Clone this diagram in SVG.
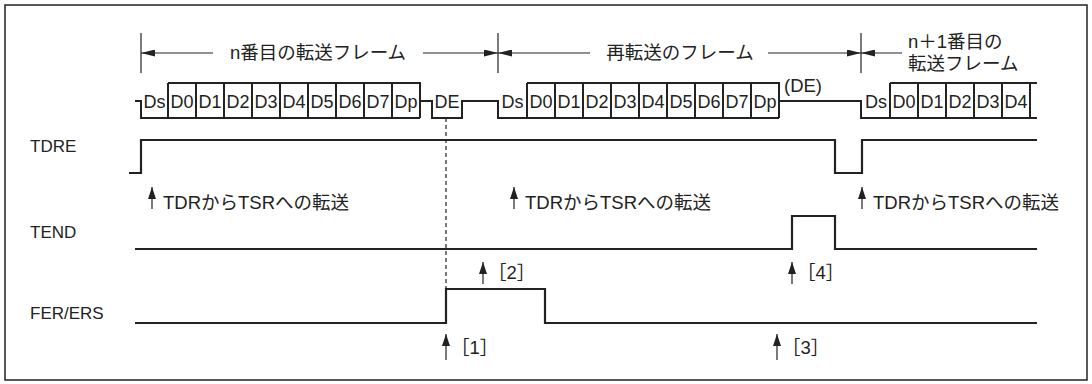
<svg xmlns="http://www.w3.org/2000/svg" width="1092" height="384" viewBox="0 0 1092 384">
<defs>
<style>
.t{font-family:"Liberation Sans","Noto Sans CJK JP",sans-serif;font-size:18.5px;fill:#222}
.l{font-family:"Liberation Sans","Noto Sans CJK JP",sans-serif;font-size:17px;fill:#222}
.d{font-family:"Liberation Sans","Noto Sans CJK JP",sans-serif;font-size:18px;fill:#222;text-anchor:middle}
.sig{fill:none;stroke:#222;stroke-width:2.2}
.box{fill:none;stroke:#222;stroke-width:2}
.thin{fill:none;stroke:#222;stroke-width:1.2}
.dash{fill:none;stroke:#222;stroke-width:1.2;stroke-dasharray:4 3}
</style>
<marker id="ah" viewBox="0 0 14 7" refX="14" refY="3.5" markerWidth="14" markerHeight="7" markerUnits="userSpaceOnUse" orient="auto">
<path d="M0,0 L14,3.5 L0,7 Z" fill="#222"/>
</marker>
<marker id="au" viewBox="0 0 12 8" refX="12" refY="4" markerWidth="12" markerHeight="8" markerUnits="userSpaceOnUse" orient="auto">
<path d="M0,0 L12,4 L0,8 Z" fill="#222"/>
</marker>
</defs>
<rect x="5" y="5" width="1082" height="375" fill="#fff" stroke="#222" stroke-width="1.5"/>

<g id="frame-headers">
<line class="thin" x1="141" y1="33" x2="141" y2="73"/>
<line class="thin" x1="498" y1="33" x2="498" y2="73"/>
<line class="thin" x1="861" y1="33" x2="861" y2="73"/>
<line class="thin" x1="213" y1="53" x2="141" y2="53" marker-end="url(#ah)"/>
<line class="thin" x1="423" y1="53" x2="498" y2="53" marker-end="url(#ah)"/>
<line class="thin" x1="590" y1="53" x2="498" y2="53" marker-end="url(#ah)"/>
<line class="thin" x1="768" y1="53" x2="861" y2="53" marker-end="url(#ah)"/>
<line class="thin" x1="902" y1="53" x2="861" y2="53" marker-end="url(#ah)"/>
<text class="t" x="318" y="59" text-anchor="middle">n番目の転送フレーム</text>
<text class="t" x="680" y="59" text-anchor="middle">再転送のフレーム</text>
<text class="t" x="908" y="48">n＋1番目の</text>
<text class="t" x="908" y="70">転送フレーム</text>
</g>

<g id="data-line">
<path class="box" d="M135,101 H141 V118 H420 M168,83 H420 V118 M420,101 H432 V118 H462 V101 H498 V118 H779 M527,83 H779 V118 M779,101 H861 V118 H1037 M890,83 H1037"/>
<path class="box" d="M168,83 V118 M196,83 V118 M224,83 V118 M252,83 V118 M280,83 V118 M308,83 V118 M336,83 V118 M364,83 V118 M392,83 V118 M527,83 V118 M555,83 V118 M583,83 V118 M611,83 V118 M639,83 V118 M667,83 V118 M695,83 V118 M723,83 V118 M751,83 V118 M890,83 V118 M918,83 V118 M946,83 V118 M974,83 V118 M1002,83 V118 M1030,83 V118"/>
<text class="d" x="154.5" y="108">Ds</text>
<text class="d" x="182" y="108">D0</text>
<text class="d" x="210" y="108">D1</text>
<text class="d" x="238" y="108">D2</text>
<text class="d" x="266" y="108">D3</text>
<text class="d" x="294" y="108">D4</text>
<text class="d" x="322" y="108">D5</text>
<text class="d" x="350" y="108">D6</text>
<text class="d" x="378" y="108">D7</text>
<text class="d" x="406" y="108">Dp</text>
<text class="d" x="447" y="108">DE</text>
<text class="d" x="512.5" y="108">Ds</text>
<text class="d" x="541" y="108">D0</text>
<text class="d" x="569" y="108">D1</text>
<text class="d" x="597" y="108">D2</text>
<text class="d" x="625" y="108">D3</text>
<text class="d" x="653" y="108">D4</text>
<text class="d" x="681" y="108">D5</text>
<text class="d" x="709" y="108">D6</text>
<text class="d" x="737" y="108">D7</text>
<text class="d" x="765" y="108">Dp</text>
<text class="d" x="803" y="92" style="font-size:18.5px">(DE)</text>
<text class="d" x="876" y="108">Ds</text>
<text class="d" x="904" y="108">D0</text>
<text class="d" x="932" y="108">D1</text>
<text class="d" x="960" y="108">D2</text>
<text class="d" x="988" y="108">D3</text>
<text class="d" x="1016" y="108">D4</text>
</g>

<g id="TDRE">
<text class="l" x="30" y="152">TDRE</text>
<path class="sig" d="M129,173 H141 V140 H835 V173 H862 V140 H1037"/>
</g>
<g id="TEND">
<text class="l" x="30" y="238">TEND</text>
<path class="sig" d="M135,249 H792 V216 H835 V249 H1037"/>
</g>
<g id="FER-ERS">
<text class="l" x="30" y="319">FER/ERS</text>
<path class="sig" d="M135,323 H446 V289 H545 V323 H1037"/>
</g>

<g id="connectors">
<line class="dash" x1="446" y1="118" x2="446" y2="289"/>
<line class="thin" x1="152" y1="209" x2="152" y2="187" marker-end="url(#au)"/>
<line class="thin" x1="514" y1="209" x2="514" y2="187" marker-end="url(#au)"/>
<line class="thin" x1="862" y1="209" x2="862" y2="187" marker-end="url(#au)"/>
<line class="thin" x1="483" y1="284" x2="483" y2="262" marker-end="url(#au)"/>
<line class="thin" x1="792" y1="284" x2="792" y2="262" marker-end="url(#au)"/>
<line class="thin" x1="446" y1="360" x2="446" y2="334" marker-end="url(#au)"/>
<line class="thin" x1="777" y1="360" x2="777" y2="334" marker-end="url(#au)"/>
</g>

<g id="annotations">
<text class="t" x="163" y="209">TDRからTSRへの転送</text>
<text class="t" x="525" y="209">TDRからTSRへの転送</text>
<text class="t" x="873" y="209">TDRからTSRへの転送</text>
<text class="t" x="488" y="279">［2］</text>
<text class="t" x="797" y="279">［4］</text>
<text class="t" x="451" y="354">［1］</text>
<text class="t" x="782" y="354">［3］</text>
</g>
</svg>
